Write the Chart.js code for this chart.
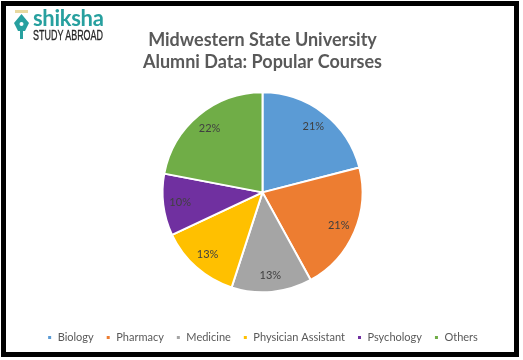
<!DOCTYPE html>
<html>
<head>
<meta charset="utf-8">
<script src="https://cdn.jsdelivr.net/npm/chart.js@4/dist/chart.umd.min.js"></script>
<style>
  html, body { margin: 0; padding: 0; background: #fff; }
  #wrap { position: relative; width: 523px; height: 360px; }
  #frame { position: absolute; left: 1px; top: 1px; width: 518px; height: 356px;
           border: 5px solid #000; box-sizing: border-box; }
  #chart { position: absolute; left: 0; top: 0; }
  #logo { position: absolute; left: 12px; top: 9px; }
  #logo .name { position: absolute; left: 21px; top: -5px; font: bold 22px 'Lato', sans-serif;
                color: #27a09f; letter-spacing: -0.3px; }
  #logo .sub { position: absolute; left: 21px; top: 18px; font: 14px 'Liberation Sans', sans-serif;
               color: #262626; white-space: nowrap; transform: scaleX(0.64); transform-origin: left top;
               -webkit-text-stroke: 0.3px #262626; }
</style>
</head>
<body>
<div id="wrap">
  <canvas id="chart" width="523" height="360"></canvas>
  <div id="frame"></div>
  <div id="logo">
    <svg width="20" height="32" viewBox="0 0 20 32">
      <rect x="3" y="1" width="13" height="3" fill="#e8d9a0"/>
      <path d="M9.5 5 L17 14 L13 22 L11 22 L11 30 L8 30 L8 22 L6 22 L2 14 Z" fill="#27a09f"/>
      <circle cx="9.5" cy="15" r="2" fill="#fff"/>
    </svg>
    <span class="name">shiksha</span>
    <span class="sub">STUDY ABROAD</span>
  </div>
</div>
<script>
var courses = ['Biology', 'Pharmacy', 'Medicine', 'Physician Assistant', 'Psychology', 'Others'];
var shares = [21, 21, 13, 13, 10, 22];
var slice_colors = ['#5b9bd5', '#ed7d31', '#a5a5a5', '#ffc000', '#7030a0', '#70ad47'];
var title_lines = ['Midwestern State University', 'Alumni Data: Popular Courses'];

// percent labels inside each slice, near the outer edge
var pct_labels = {
    id: 'pct_labels',
    afterDatasetsDraw: function (chart) {
        var ctx = chart.ctx;
        var meta = chart.getDatasetMeta(0);
        ctx.save();
        ctx.font = '11px Lato, sans-serif';
        ctx.fillStyle = '#404040';
        ctx.textAlign = 'center';
        ctx.textBaseline = 'middle';
        meta.data.forEach(function (arc, i) {
            var p = arc.getProps(['x', 'y', 'startAngle', 'endAngle', 'outerRadius'], true);
            var mid = (p.startAngle + p.endAngle) / 2;
            var d = p.outerRadius * 0.83;
            ctx.fillText(shares[i] + '%', p.x + Math.cos(mid) * d, p.y + Math.sin(mid) * d);
        });
        ctx.restore();
    }
};

var ctx_pie = document.getElementById('chart').getContext('2d');
var chart_pie = new Chart(ctx_pie, {
    type: 'pie',
    data: {
        labels: courses,
        datasets: [{
            data: shares,
            backgroundColor: slice_colors,
            borderColor: '#ffffff',
            borderWidth: 2
        }]
    },
    options: {
        responsive: false,
        animation: false,
        radius: 100,
        layout: { padding: { top: 0, bottom: 7, left: 2, right: 0 } },
        plugins: {
            title: {
                display: true,
                text: title_lines,
                color: '#595959',
                font: { family: 'Lato', size: 18, weight: 'bold', lineHeight: 1.22 },
                padding: { top: 29, bottom: 0 }
            },
            legend: {
                position: 'bottom',
                title: { display: true, text: ' ', font: { size: 1 }, padding: { top: 7, bottom: 0 } },
                labels: {
                    boxWidth: 5,
                    boxHeight: 5,
                    padding: 12,
                    color: '#595959',
                    font: { family: 'Lato', size: 11 }
                }
            },
            tooltip: { enabled: false }
        }
    },
    plugins: [pct_labels]
});
</script>
</body>
</html>
